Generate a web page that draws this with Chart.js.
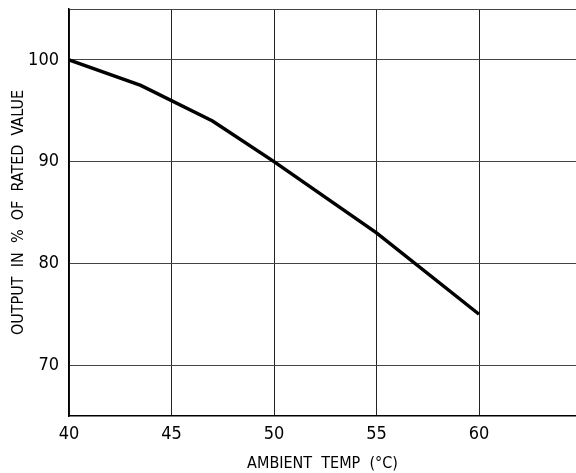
<!DOCTYPE html>
<html>
<head>
<meta charset="utf-8">
<script src="https://cdn.jsdelivr.net/npm/chart.js@4/dist/chart.umd.min.js"></script>
<style>
  body { margin: 0; background: #fff; }
  #wrap { width: 576px; height: 473px; overflow: hidden; }
</style>
</head>
<body>
<div id="wrap"><canvas id="myChart" width="576" height="473"></canvas></div>
<script>
// Derating curve
const tempC = [40, 43.5, 47, 50, 55, 60];
const outputPct = [100, 97.5, 94, 90, 83, 75];
const xTicks = [40, 45, 50, 55, 60];
const yTicks = [70, 80, 90, 100, 105];

const fontFamily = '"DejaVu Sans Condensed", "Liberation Sans Narrow", sans-serif';

const ctx = document.getElementById('myChart').getContext('2d');
new Chart(ctx, {
    type: 'line',
    data: {
        datasets: [{
            data: tempC.map((t, i) => ({ x: t, y: outputPct[i] })),
            borderColor: '#000',
            borderWidth: 3.5,
            pointRadius: 0,
            tension: 0,
            fill: false
        }]
    },
    options: {
        responsive: false,
        animation: false,
        layout: { padding: { top: 9, right: 0, left: 0, bottom: 0 } },
        plugins: { legend: { display: false }, tooltip: { enabled: false } },
        scales: {
            x: {
                type: 'linear',
                min: 40,
                max: 64.73,
                afterBuildTicks: axis => { axis.ticks = xTicks.map(v => ({ value: v })); },
                afterFit: axis => { axis.height = 57; },
                grid: { color: '#222', lineWidth: 1, drawTicks: false },
                border: { color: '#000', width: 1.5 },
                ticks: { color: '#000', padding: 8, font: { family: fontFamily, size: 18 } },
                title: {
                    display: true,
                    text: 'AMBIENT  TEMP  (°C)',
                    color: '#000',
                    padding: { top: 4, bottom: 0 },
                    font: { family: fontFamily, size: 16 }
                }
            },
            y: {
                min: 65,
                max: 105,
                afterBuildTicks: axis => { axis.ticks = yTicks.map(v => ({ value: v })); },
                afterFit: axis => {
                    axis.width = 69;
                    axis.paddingTop = 0;
                    axis.paddingBottom = 0;
                },
                grid: { color: '#444', lineWidth: 1, drawTicks: false },
                border: { color: '#000', width: 1.5 },
                ticks: {
                    color: '#000',
                    padding: 10,
                    font: { family: fontFamily, size: 18 },
                    callback: v => (v === 105 ? '' : v)
                },
                title: {
                    display: true,
                    text: 'OUTPUT  IN  %  OF  RATED  VALUE',
                    color: '#000',
                    padding: { top: 9, bottom: 4 },
                    font: { family: fontFamily, size: 16 }
                }
            }
        }
    }
});
</script>
</body>
</html>
